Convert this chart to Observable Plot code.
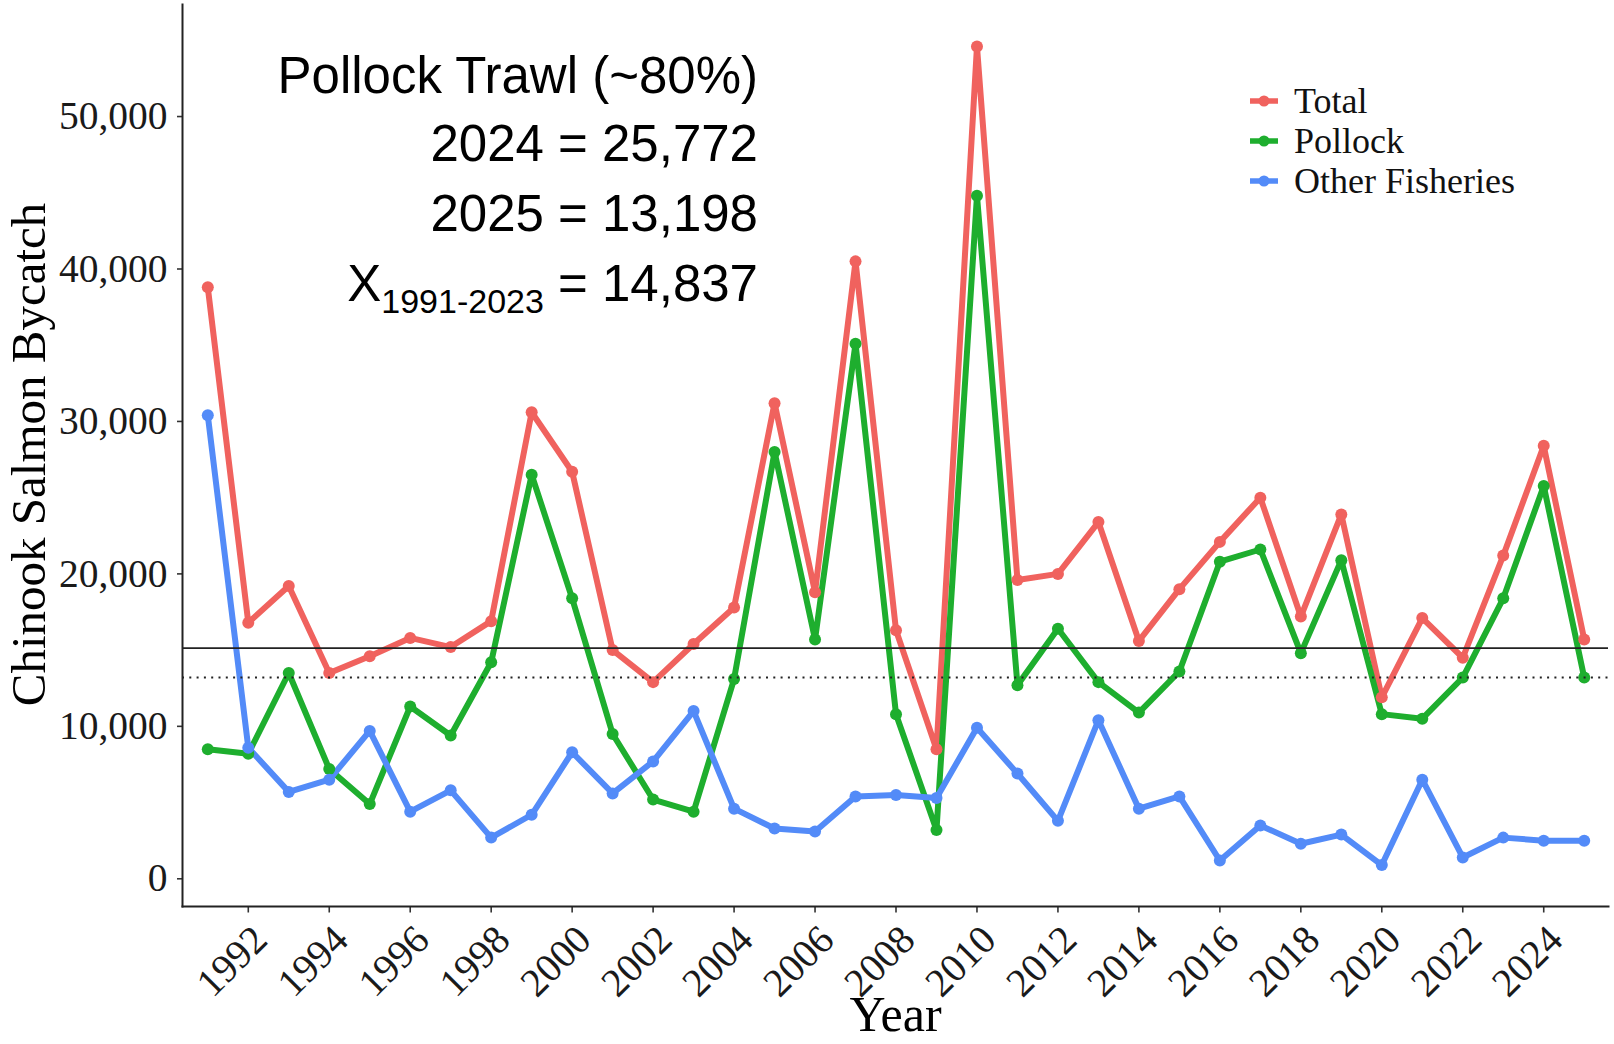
<!DOCTYPE html>
<html>
<head>
<meta charset="utf-8">
<script src="https://cdn.jsdelivr.net/npm/d3@7"></script>
<script src="https://cdn.jsdelivr.net/npm/@observablehq/plot@0.6"></script>
<style>
  body { margin: 0; background: #fff; }
  #wrap { position: relative; width: 1614px; height: 1044px; overflow: hidden; }
  #wrap > svg { position: absolute; left: 0; top: 0; }
  .note { position: absolute; font-family: "Liberation Sans", Arial, sans-serif; color: #000; text-align: right; white-space: nowrap; }
  .legend { position: absolute; font-family: "Liberation Serif", "Times New Roman", serif; font-size: 36px; color: #111; }
  .legend .row { display: flex; align-items: center; height: 40px; line-height: 40px; }
  .legend .row svg { display: block; margin-right: 15px; }
  .legend .row span { white-space: nowrap; }
</style>
</head>
<body>
<div id="wrap"></div>
<script>
// ---- data ----
const years = [1991,1992,1993,1994,1995,1996,1997,1998,1999,2000,2001,2002,2003,2004,2005,2006,2007,2008,2009,2010,2011,2012,2013,2014,2015,2016,2017,2018,2019,2020,2021,2022,2023,2024,2025];
const total   = [38800,16800,19200,13500,14600,15800,15200,16900,30600,26700,15000,12900,15400,17800,31200,18800,40500,16300,8500,54600,19600,20000,23400,15600,19000,22100,25000,17200,23900,11900,17100,14500,21200,28400,15700];
const pollock = [8500,8200,13500,7200,4900,11300,9400,14200,26500,18400,9500,5200,4400,13100,28000,15700,35100,10800,3200,44800,12700,16400,12900,10900,13600,20800,21600,14800,20900,10800,10500,13200,18400,25772,13198];
const other   = [30400,8600,5700,6500,9700,4400,5800,2700,4200,8300,5600,7700,11000,4600,3300,3100,5400,5500,5300,9900,6900,3800,10400,4600,5400,1200,3500,2300,2900,900,6500,1400,2700,2500,2500];
const seriesNames = ["Total", "Pollock", "Other Fisheries"];
const seriesColors = ["#F0625E", "#1EAE2E", "#538BF8"];
const xTicks = [1992,1994,1996,1998,2000,2002,2004,2006,2008,2010,2012,2014,2016,2018,2020,2022,2024];
const yTicks = [0,10000,20000,30000,40000,50000];
const solidLine = [15130];
const dottedLine = [13198];
const yLabel = "Chinook Salmon Bycatch";
const xLabel = "Year";

const rows = [];
[total, pollock, other].forEach((arr, i) => {
  arr.forEach((v, j) => rows.push({year: years[j], value: v, series: seriesNames[i]}));
});

const chart = Plot.plot({
  width: 1614,
  height: 1044,
  marginLeft: 182,
  marginTop: 4,
  marginRight: 6,
  marginBottom: 138,
  style: {fontFamily: "'Liberation Serif', 'Times New Roman', serif", color: "#1a1a1a", background: "#fff"},
  x: {domain: [1990.375, 2025.6], label: null},
  y: {domain: [-1818, 57350], label: null},
  color: {domain: seriesNames, range: seriesColors},
  marks: [
    Plot.line(rows, {x: "year", y: "value", stroke: "series", z: "series", strokeWidth: 6, strokeLinejoin: "round", strokeLinecap: "round"}),
    Plot.dot(rows, {x: "year", y: "value", fill: "series", r: 6, stroke: "none"}),
    Plot.ruleY(solidLine, {stroke: "#222", strokeWidth: 1.8}),
    Plot.ruleY(dottedLine, {stroke: "#222", strokeWidth: 2, strokeDasharray: "2,5.3"}),
    Plot.axisY({ticks: yTicks, tickFormat: d3.format(","), tickSize: 5, tickPadding: 10, fontSize: 39.5, stroke: "#333", strokeWidth: 1.6, label: null}),
    // tick marks only
    Plot.axisX({ticks: xTicks, tickFormat: () => "", tickSize: 6.5, stroke: "#333", strokeWidth: 1.6, label: null}),
    // rotated tick labels only
    Plot.axisX({ticks: xTicks, tickFormat: d => String(d), tickSize: 0, tickPadding: 10.5, tickRotate: -45, fontSize: 40, dx: 12, dy: 16, label: null}),
    Plot.frame({anchor: "left", stroke: "#222", strokeWidth: 2}),
    Plot.frame({anchor: "bottom", stroke: "#222", strokeWidth: 2}),
    Plot.text([yLabel], {frameAnchor: "left", rotate: -90, textAnchor: "middle", dx: -153, dy: -1, fontSize: 49, fill: "#000"}),
    Plot.text([xLabel], {frameAnchor: "bottom", dy: 124, fontSize: 50, fill: "#000"})
  ]
});

const wrap = document.getElementById("wrap");
wrap.appendChild(chart);

// annotation block
const notes = [
  {html: "Pollock Trawl (~80%)", top: 50},
  {html: "2024 = 25,772", top: 118},
  {html: "2025 = 13,198", top: 188},
  {html: "X<sub style='font-size:34px;vertical-align:-12px;line-height:0'>1991-2023</sub> = 14,837", top: 258}
];
notes.forEach(n => {
  const d = document.createElement("div");
  d.className = "note";
  d.style.right = (1614 - 758) + "px";
  d.style.top = n.top + "px";
  d.style.fontSize = "51px";
  d.style.lineHeight = "51px";
  d.innerHTML = n.html;
  wrap.appendChild(d);
});

// legend
const leg = document.createElement("div");
leg.className = "legend";
leg.style.left = "1249px";
leg.style.top = "81px";
seriesNames.forEach((name, i) => {
  const row = document.createElement("div");
  row.className = "row";
  row.innerHTML = `<svg width="30" height="14"><line x1="1" x2="29" y1="7" y2="7" stroke="${seriesColors[i]}" stroke-width="5.5"/><circle cx="15" cy="7" r="5.5" fill="${seriesColors[i]}"/></svg><span>${name}</span>`;
  leg.appendChild(row);
});
wrap.appendChild(leg);
</script>
</body>
</html>
